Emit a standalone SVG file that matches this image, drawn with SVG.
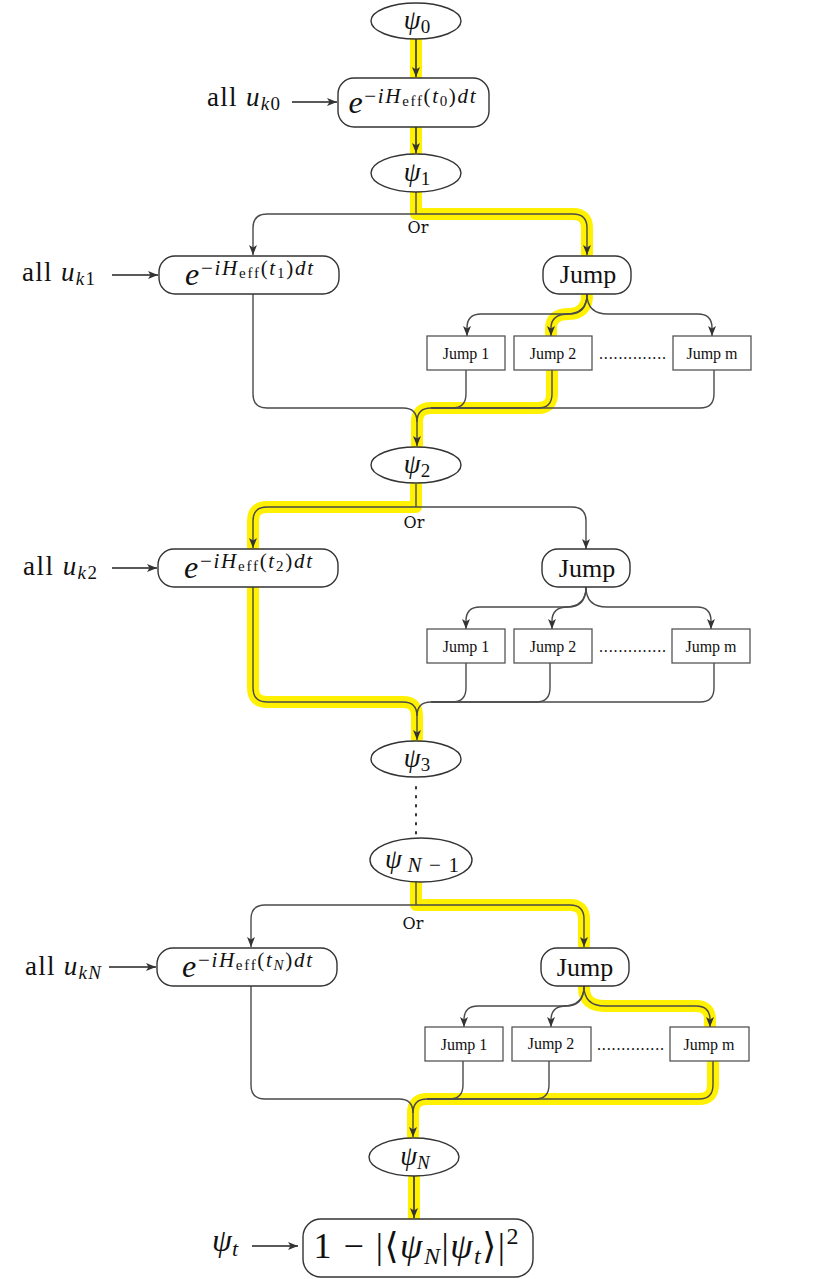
<svg xmlns="http://www.w3.org/2000/svg" width="830" height="1279" viewBox="0 0 830 1279">
<style>
.hl{fill:none;stroke:#fff100;stroke-width:12;stroke-linecap:round;stroke-linejoin:round}
.c{fill:none;stroke:#4a4a4a;stroke-width:1.4}
.cd{fill:none;stroke:#222;stroke-width:1.5}
.nd{fill:#fff;stroke:#333;stroke-width:1.4}
.sq{fill:#fff;stroke:#555;stroke-width:1.3}
.m{font-family:"Liberation Serif","DejaVu Serif",serif;fill:#111}
.it{font-style:italic}
.psi{font-family:"Liberation Serif","DejaVu Serif",serif;font-size:27px;fill:#111}
.or{font-family:"DejaVu Serif","Liberation Serif",serif;font-size:16px;fill:#111}
.jb{font-family:"Liberation Serif","DejaVu Serif",serif;font-size:26px;fill:#111}
.js{font-family:"Liberation Serif","DejaVu Serif",serif;font-size:16px;fill:#111}
.dots{font-family:"Liberation Serif",serif;font-size:16px;fill:#111}
</style>
<defs>
<marker id="ah" viewBox="0 0 10 8" refX="10" refY="4" markerWidth="10" markerHeight="8" markerUnits="userSpaceOnUse" orient="auto">
<path d="M0,0 L10,4 L0,8 L2.5,4 z" fill="#333"/>
</marker>
</defs>

<g id="highlight">
<path class="hl" d="M416,40 V76"/>
<path class="hl" d="M416,128 V152"/>
<path class="hl" d="M416,193 V214 H573 Q587,214 587,228 V254"/>
<path class="hl" d="M587,296 C587,308 580,314 569,314 Q551,314 551,328 V334"/>
<path class="hl" d="M552,372 V394 Q552,408 538,408 H431 Q417,408 417,422 V445"/>
<path class="hl" d="M416,485 V507 H267 Q253,507 253,521 V547"/>
<path class="hl" d="M253,589 V688 Q253,702 267,702 H403 Q417,702 417,716 V739"/>
<path class="hl" d="M416,884 V905 H570 Q584,905 584,919 V945"/>
<path class="hl" d="M584,988 C584,1000 591,1006 605,1006 H696 Q710,1006 710,1020 V1025"/>
<path class="hl" d="M713,1063 V1085 Q713,1099 699,1099 H427 Q413,1099 413,1113 V1136"/>
<path class="hl" d="M414,1178 V1217"/>
</g>

<g id="connectors">
<path class="cd" d="M416,39 V77" marker-end="url(#ah)"/>
<path class="cd" d="M416,127 V153" marker-end="url(#ah)"/>
<path class="cd" d="M292,102 H337" marker-end="url(#ah)"/>
<path class="c" d="M416,192 V214"/>
<path class="c" d="M416,214 H267 Q253,214 253,228 V255" marker-end="url(#ah)"/>
<path class="c" d="M416,214 H573 Q587,214 587,228 V255" marker-end="url(#ah)"/>
<path class="cd" d="M112,275 H158" marker-end="url(#ah)"/>
<path class="c" d="M587,294 C587,308 580,314 566,314 H481 Q467,314 467,328 V336" marker-end="url(#ah)"/>
<path class="c" d="M587,294 C587,308 580,314 569,314 Q551,314 551,328 V336" marker-end="url(#ah)"/>
<path class="c" d="M587,294 C587,308 594,314 608,314 H698 Q712,314 712,328 V336" marker-end="url(#ah)"/>
<path class="c" d="M253,294 V394 Q253,408 267,408 H403 Q417,408 417,422 V446" marker-end="url(#ah)"/>
<path class="c" d="M466,370 V394 Q466,408 452,408 H431 Q417,408 417,422"/>
<path class="c" d="M552,370 V394 Q552,408 538,408 H431"/>
<path class="c" d="M714,370 V394 Q714,408 700,408 H431"/>
<path class="c" d="M416,484 V507"/>
<path class="c" d="M416,507 H267 Q253,507 253,521 V548" marker-end="url(#ah)"/>
<path class="c" d="M416,507 H572 Q586,507 586,521 V549" marker-end="url(#ah)"/>
<path class="cd" d="M112,568 H157" marker-end="url(#ah)"/>
<path class="c" d="M586,587 C586,601 579,607 565,607 H480 Q466,607 466,621 V629" marker-end="url(#ah)"/>
<path class="c" d="M586,587 C586,601 579,607 568,607 Q552,607 552,621 V629" marker-end="url(#ah)"/>
<path class="c" d="M586,587 C586,601 593,607 607,607 H697 Q711,607 711,621 V629" marker-end="url(#ah)"/>
<path class="c" d="M253,587 V688 Q253,702 267,702 H403 Q417,702 417,716 V740" marker-end="url(#ah)"/>
<path class="c" d="M466,663 V688 Q466,702 452,702 H431 Q417,702 417,716"/>
<path class="c" d="M550,663 V688 Q550,702 536,702 H431"/>
<path class="c" d="M714,663 V688 Q714,702 700,702 H431"/>
<path d="M416,787 V834" fill="none" stroke="#333" stroke-width="2" stroke-dasharray="1.5 7.5" stroke-linecap="round"/>
<path class="c" d="M416,882 V905"/>
<path class="c" d="M416,905 H265 Q251,905 251,919 V947" marker-end="url(#ah)"/>
<path class="c" d="M416,905 H570 Q584,905 584,919 V947" marker-end="url(#ah)"/>
<path class="cd" d="M109,967 H156" marker-end="url(#ah)"/>
<path class="c" d="M584,986 C584,1000 577,1006 563,1006 H478 Q464,1006 464,1020 V1027" marker-end="url(#ah)"/>
<path class="c" d="M584,986 C584,1000 577,1006 566,1006 Q551,1006 551,1020 V1027" marker-end="url(#ah)"/>
<path class="c" d="M584,986 C584,1000 591,1006 605,1006 H696 Q710,1006 710,1020 V1027" marker-end="url(#ah)"/>
<path class="c" d="M251,986 V1085 Q251,1099 265,1099 H399 Q413,1099 413,1113 V1137" marker-end="url(#ah)"/>
<path class="c" d="M463,1061 V1085 Q463,1099 449,1099 H427 Q413,1099 413,1113"/>
<path class="c" d="M549,1061 V1085 Q549,1099 535,1099 H427"/>
<path class="c" d="M713,1061 V1085 Q713,1099 699,1099 H427"/>
<path class="cd" d="M414,1176 V1218" marker-end="url(#ah)"/>
<path class="cd" d="M252,1246 H298" marker-end="url(#ah)"/>
</g>

<g id="psi0"><ellipse class="nd" cx="416" cy="21" rx="45" ry="18"/>
<text class="psi" x="417" y="29" text-anchor="middle"><tspan class="it">ψ</tspan><tspan font-size="19" dy="4">0</tspan></text></g>

<g id="u0"><text class="m" x="207" y="106" font-size="27" textLength="73" lengthAdjust="spacing">all <tspan class="it">u</tspan><tspan font-size="19" dy="4"><tspan class="it">k</tspan>0</tspan></text></g>

<g id="U0"><rect class="nd" x="338" y="78" width="151" height="49" rx="16"/>
<text class="m" x="412" y="113" text-anchor="middle" textLength="127" lengthAdjust="spacing"><tspan class="it" font-size="32">e</tspan><tspan font-size="21" dy="-10">−<tspan class="it">iH</tspan><tspan font-size="15" dy="3">eff</tspan><tspan dy="-3">(</tspan><tspan class="it">t</tspan><tspan font-size="15" dy="3">0</tspan><tspan dy="-3">)</tspan><tspan class="it">dt</tspan></tspan></text></g>

<g id="psi1"><ellipse class="nd" cx="416" cy="173" rx="45" ry="19"/>
<text class="psi" x="417" y="181" text-anchor="middle"><tspan class="it">ψ</tspan><tspan font-size="19" dy="4">1</tspan></text></g>

<g id="or1"><text class="or" x="418" y="233" text-anchor="middle">Or</text></g>

<g id="u1"><text class="m" x="22" y="281" font-size="27" textLength="73" lengthAdjust="spacing">all <tspan class="it">u</tspan><tspan font-size="19" dy="4"><tspan class="it">k</tspan>1</tspan></text></g>

<g id="U1"><rect class="nd" x="159" y="256" width="180" height="38" rx="16"/>
<text class="m" x="249" y="285" text-anchor="middle" textLength="128" lengthAdjust="spacing"><tspan class="it" font-size="32">e</tspan><tspan font-size="21" dy="-10">−<tspan class="it">iH</tspan><tspan font-size="15" dy="3">eff</tspan><tspan dy="-3">(</tspan><tspan class="it">t</tspan><tspan font-size="15" dy="3">1</tspan><tspan dy="-3">)</tspan><tspan class="it">dt</tspan></tspan></text></g>

<g id="J1"><rect class="nd" x="543" y="256" width="88" height="38" rx="16"/>
<text class="jb" x="588" y="283" text-anchor="middle">Jump</text></g>
<g id="J1a"><rect class="sq" x="427" y="336" width="78" height="34"/><text class="js" x="466" y="359" text-anchor="middle">Jump 1</text></g>
<g id="J1b"><rect class="sq" x="514" y="336" width="78" height="34"/><text class="js" x="553" y="359" text-anchor="middle">Jump 2</text></g>
<g id="J1m"><rect class="sq" x="673" y="336" width="78" height="34"/><text class="js" x="712" y="359" text-anchor="middle">Jump m</text></g>
<g id="d1"><text class="dots" x="599" y="359" textLength="67" lengthAdjust="spacing">..............</text></g>

<g id="psi2"><ellipse class="nd" cx="416" cy="465" rx="45" ry="18"/>
<text class="psi" x="417" y="473" text-anchor="middle"><tspan class="it">ψ</tspan><tspan font-size="19" dy="4">2</tspan></text></g>

<g id="or2"><text class="or" x="414" y="528" text-anchor="middle">Or</text></g>

<g id="u2"><text class="m" x="23" y="575" font-size="27" textLength="74" lengthAdjust="spacing">all <tspan class="it">u</tspan><tspan font-size="19" dy="4"><tspan class="it">k</tspan>2</tspan></text></g>

<g id="U2"><rect class="nd" x="158" y="549" width="180" height="38" rx="16"/>
<text class="m" x="248" y="578" text-anchor="middle" textLength="128" lengthAdjust="spacing"><tspan class="it" font-size="32">e</tspan><tspan font-size="21" dy="-10">−<tspan class="it">iH</tspan><tspan font-size="15" dy="3">eff</tspan><tspan dy="-3">(</tspan><tspan class="it">t</tspan><tspan font-size="15" dy="3">2</tspan><tspan dy="-3">)</tspan><tspan class="it">dt</tspan></tspan></text></g>

<g id="J2"><rect class="nd" x="542" y="549" width="88" height="38" rx="16"/>
<text class="jb" x="587" y="577" text-anchor="middle">Jump</text></g>
<g id="J2a"><rect class="sq" x="427" y="629" width="78" height="34"/><text class="js" x="466" y="652" text-anchor="middle">Jump 1</text></g>
<g id="J2b"><rect class="sq" x="514" y="629" width="78" height="34"/><text class="js" x="553" y="652" text-anchor="middle">Jump 2</text></g>
<g id="J2m"><rect class="sq" x="672" y="629" width="78" height="34"/><text class="js" x="711" y="652" text-anchor="middle">Jump m</text></g>
<g id="d2"><text class="dots" x="599" y="652" textLength="67" lengthAdjust="spacing">..............</text></g>

<g id="psi3"><ellipse class="nd" cx="416" cy="759" rx="45" ry="18"/>
<text class="psi" x="417" y="767" text-anchor="middle"><tspan class="it">ψ</tspan><tspan font-size="19" dy="4">3</tspan></text></g>

<g id="psiN1"><ellipse class="nd" cx="421" cy="860" rx="51" ry="22"/>
<text class="psi" x="422" y="868" text-anchor="middle" textLength="74" lengthAdjust="spacing"><tspan class="it">ψ</tspan><tspan font-size="21" dy="4"><tspan class="it">N</tspan><tspan dx="2">−</tspan><tspan dx="2">1</tspan></tspan></text></g>

<g id="or3"><text class="or" x="413" y="929" text-anchor="middle">Or</text></g>

<g id="uN"><text class="m" x="25" y="975" font-size="27" textLength="76" lengthAdjust="spacing">all <tspan class="it">u</tspan><tspan font-size="19" dy="4"><tspan class="it">kN</tspan></tspan></text></g>

<g id="UN"><rect class="nd" x="157" y="948" width="180" height="38" rx="16"/>
<text class="m" x="247" y="977" text-anchor="middle" textLength="130" lengthAdjust="spacing"><tspan class="it" font-size="32">e</tspan><tspan font-size="21" dy="-10">−<tspan class="it">iH</tspan><tspan font-size="15" dy="3">eff</tspan><tspan dy="-3">(</tspan><tspan class="it">t</tspan><tspan font-size="15" dy="3" class="it">N</tspan><tspan dy="-3">)</tspan><tspan class="it">dt</tspan></tspan></text></g>

<g id="J3"><rect class="nd" x="541" y="948" width="88" height="38" rx="16"/>
<text class="jb" x="585" y="976" text-anchor="middle">Jump</text></g>
<g id="J3a"><rect class="sq" x="425" y="1027" width="78" height="34"/><text class="js" x="464" y="1050" text-anchor="middle">Jump 1</text></g>
<g id="J3b"><rect class="sq" x="512" y="1027" width="79" height="34"/><text class="js" x="551" y="1049" text-anchor="middle">Jump 2</text></g>
<g id="J3m"><rect class="sq" x="670" y="1027" width="79" height="34"/><text class="js" x="709" y="1050" text-anchor="middle">Jump m</text></g>
<g id="d3"><text class="dots" x="597" y="1050" textLength="67" lengthAdjust="spacing">..............</text></g>

<g id="psiN"><ellipse class="nd" cx="414" cy="1157" rx="45" ry="19"/>
<text class="psi" x="415" y="1165" text-anchor="middle"><tspan class="it">ψ</tspan><tspan font-size="19" dy="4" class="it">N</tspan></text></g>

<g id="psit"><text class="m" x="212" y="1251" font-size="32"><tspan class="it">ψ</tspan><tspan font-size="22" dy="5" class="it">t</tspan></text></g>

<g id="fid"><rect class="nd" x="303" y="1219" width="230" height="58" rx="18"/>
<text class="m" x="416" y="1258" text-anchor="middle" font-size="36" textLength="205" lengthAdjust="spacing">1 − |⟨<tspan class="it">ψ</tspan><tspan font-size="24" class="it" dy="6">N</tspan><tspan dy="-6">|</tspan><tspan class="it">ψ</tspan><tspan font-size="24" class="it" dy="6">t</tspan><tspan dy="-6">⟩|</tspan><tspan font-size="24" dy="-14">2</tspan></text></g>
</svg>
